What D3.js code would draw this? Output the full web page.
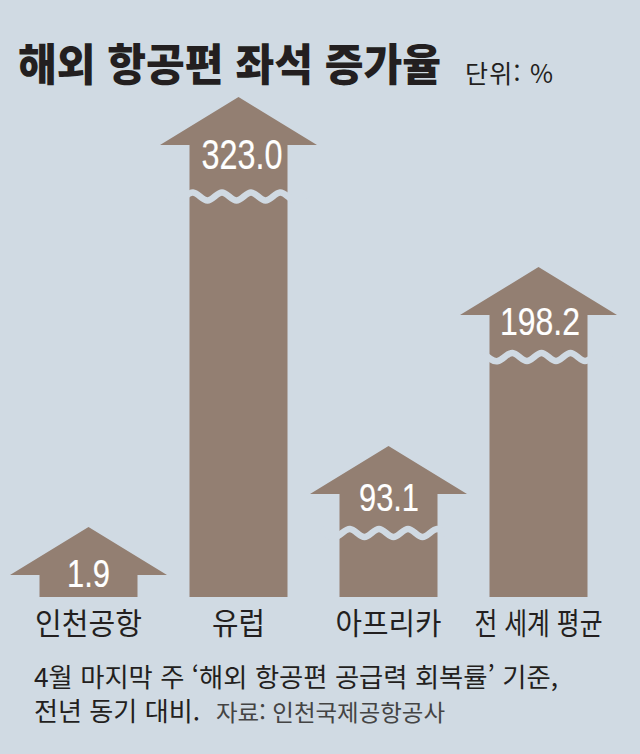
<!DOCTYPE html>
<html lang="ko">
<head>
<meta charset="utf-8">
<script src="https://cdn.jsdelivr.net/npm/d3@7"></script>
<style>
  html, body { margin: 0; padding: 0; background: #d0dae3; }
  svg { display: block; }
  text { font-family: "Noto Sans CJK KR", "Noto Sans", sans-serif; fill: #231f20; }
</style>
</head>
<body>
<div id="chart"></div>
<script>
const categories = ["인천공항", "유럽", "아프리카", "전 세계 평균"];
const values = [1.9, 323.0, 93.1, 198.2];
const valueLabels = ["1.9", "323.0", "93.1", "198.2"];
// the picture is not to scale, so the axis is read off the arrow tips
const axisStops = [0, 1.9, 93.1, 198.2, 323];
const title = "해외 항공편 좌석 증가율";
const unit = "단위: %";
const note = "4월 마지막 주 ‘해외 항공편 공급력 회복률’ 기준,";
const note2 = "전년 동기 대비.";
const source = "자료: 인천국제공항공사";

const width = 640, height = 754;
const baseY = 597;
const shaftW = 98, headW = 157, headH = 48;
const bg = "#d0dae3", brown = "#937f72";

const svg = d3.select("#chart").append("svg")
    .attr("width", width)
    .attr("height", height);

svg.append("rect").attr("width", width).attr("height", height).attr("fill", bg);

const x = d3.scaleBand().domain(categories).range([13.5, 613.5]);
const y = d3.scaleLinear().domain(axisStops).range([baseY, 527, 446, 267, 97]);

const arrowLine = d3.line();
const waveLine = d3.line().curve(d3.curveNatural);

// per category tweaks: break position and phase, label offset and size
const waves = {
    "유럽": { gap: 51.5, phase: 3.5 },
    "아프리카": { gap: 39, phase: 10.5 },
    "전 세계 평균": { gap: 42, phase: 23 }
};
const labelStyle = {
    "인천공항": { dy: 12, dx: 0, size: 38, len: 43 },
    "유럽": { dy: 24, dx: 3.5, size: 42, len: 81 },
    "아프리카": { dy: 17, dx: 0.5, size: 38, len: 60 },
    "전 세계 평균": { dy: 20, dx: 1.5, size: 38, len: 80 }
};
const catWidth = { "인천공항": 107, "유럽": 53, "아프리카": 106, "전 세계 평균": 128 };

const bars = svg.selectAll("g.bar")
    .data(categories)
    .join("g")
    .attr("class", "bar")
    .attr("transform", d => `translate(${x(d) + x.bandwidth() / 2},0)`);

bars.append("path")
    .attr("fill", brown)
    .attr("d", (d, i) => {
        const tip = y(values[i]);
        const neck = tip + headH;
        return arrowLine([
            [0, tip], [headW / 2, neck], [shaftW / 2, neck], [shaftW / 2, baseY],
            [-shaftW / 2, baseY], [-shaftW / 2, neck], [-headW / 2, neck]
        ]) + "Z";
    });

// wavy break across the shaft, runs past both edges so it cuts cleanly
bars.filter(d => waves[d] !== undefined)
    .append("path")
    .attr("fill", "none")
    .attr("stroke", bg)
    .attr("stroke-width", 6.5)
    .attr("d", d => {
        const cy = y(values[categories.indexOf(d)]) + headH + waves[d].gap;
        const pts = d3.range(-2, 9).map(k => [
            -shaftW / 2 + waves[d].phase + k * 14.5,
            cy + (k % 2 === 0 ? -4 : 4)
        ]);
        return waveLine(pts);
    });

bars.append("text")
    .attr("x", d => labelStyle[d].dx)
    .attr("y", (d, i) => y(values[i]) + headH + labelStyle[d].dy)
    .attr("text-anchor", "middle")
    .attr("textLength", d => labelStyle[d].len)
    .attr("lengthAdjust", "spacingAndGlyphs")
    .style("font-family", "'Liberation Sans', sans-serif")
    .style("font-size", d => labelStyle[d].size + "px")
    .style("fill", "#fff")
    .style("stroke", "#fff")
    .style("stroke-width", 0.2)
    .text((d, i) => valueLabels[i]);

bars.append("text")
    .attr("y", 634)
    .attr("text-anchor", "middle")
    .attr("textLength", d => catWidth[d])
    .attr("lengthAdjust", "spacingAndGlyphs")
    .style("font-size", "30px")
    .text(d => d);

svg.append("text")
    .attr("x", 18).attr("y", 81)
    .attr("textLength", 423)
    .attr("lengthAdjust", "spacingAndGlyphs")
    .style("font-size", "44px")
    .style("font-weight", 900)
    .text(title);

svg.append("text")
    .attr("x", 465).attr("y", 83)
    .attr("textLength", 88)
    .style("font-size", "25px")
    .text(unit);

svg.append("text")
    .attr("x", 34).attr("y", 687)
    .attr("textLength", 524)
    .attr("lengthAdjust", "spacingAndGlyphs")
    .style("font-size", "26px")
    .text(note);

svg.append("text")
    .attr("x", 34).attr("y", 721)
    .attr("textLength", 166)
    .attr("lengthAdjust", "spacingAndGlyphs")
    .style("font-size", "26px")
    .text(note2);

svg.append("text")
    .attr("x", 216).attr("y", 721)
    .attr("textLength", 229)
    .attr("lengthAdjust", "spacingAndGlyphs")
    .style("font-size", "23px")
    .style("fill", "#444")
    .text(source);
</script>
</body>
</html>
